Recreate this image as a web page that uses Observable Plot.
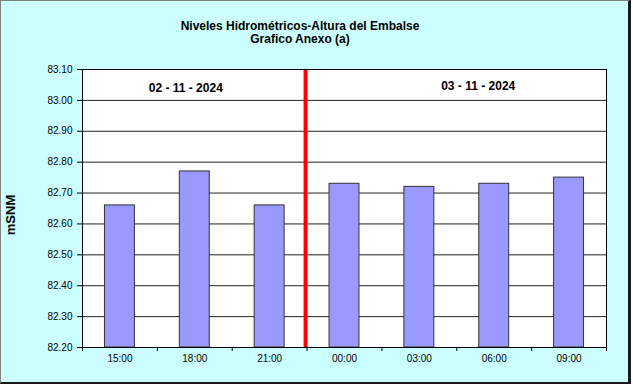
<!DOCTYPE html>
<html><head><meta charset="utf-8">
<script src="https://cdn.jsdelivr.net/npm/d3@7"></script>
<script src="https://cdn.jsdelivr.net/npm/@observablehq/plot@0.6"></script>
<style>
body{margin:0;background:#fff;font-family:Arial,"Liberation Sans",sans-serif;}
#box{position:absolute;left:0;top:0;width:631px;height:384px;box-sizing:border-box;background:#CCFFFF;border-left:1px solid #808080;border-top:1px solid #808080;border-right:3px solid #1a1a1a;border-bottom:2px solid #1a1a1a;}
#chart{position:absolute;left:0;top:0;}
.t{position:absolute;left:0;width:600px;text-align:center;font-weight:bold;font-size:12px;line-height:14px;color:#000;}
#ylab{position:absolute;left:10px;top:215px;transform:translate(-50%,-50%) rotate(-90deg);font-weight:bold;font-size:13px;white-space:nowrap;}
</style></head><body>
<div id="box"></div>
<div id="chart"></div>
<div class="t" style="top:19px">Niveles Hidrométricos-Altura del Embalse</div>
<div class="t" style="top:32px">Grafico Anexo (a)</div>
<div id="ylab">mSNM</div>
<script>
const hours = ["15:00","18:00","21:00","00:00","03:00","06:00","09:00"];
const levels = [82.66, 82.77, 82.66, 82.73, 82.72, 82.73, 82.75];
const yTicks = [82.20, 82.30, 82.40, 82.50, 82.60, 82.70, 82.80, 82.90, 83.00, 83.10];
const dateLabels = ["02 - 11 - 2024", "03 - 11 - 2024"];
const dateAnchorHours = ["18:00", "06:00"];
const dateLabelLevels = [83.038, 83.045];
const dividerHour = "00:00";

const data = hours.map((h, i) => ({hour: h, level: levels[i]}));
const yMin = yTicks[0], yMax = yTicks[yTicks.length - 1];

const W = 633, H = 386;
const mL = 82, mR = 27, mT = 69, mB = 39;
const step = (W - mL - mR) / hours.length;
const tickLen = (yMax - yMin) / (H - mT - mB) * 4;
const dateShift = [-9, -16];

const chart = Plot.plot({
  width: W, height: H,
  marginLeft: mL, marginRight: mR, marginTop: mT, marginBottom: mB,
  style: {background: "transparent", fontFamily: "Arial, 'Liberation Sans', sans-serif", fontSize: "10px", color: "#000"},
  x: {domain: hours, paddingInner: 0.6, paddingOuter: 0.3, round: false, label: null},
  y: {domain: [yMin, yMax], label: null},
  marks: [
    Plot.frame({fill: "white", stroke: "none"}),
    Plot.gridY(yTicks, {stroke: "#222", strokeOpacity: 1, strokeWidth: 1}),
    Plot.barY(data, {x: "hour", y1: yMin, y2: "level", fill: "#9999FF", stroke: "#333", strokeWidth: 1}),
    Plot.ruleX([dividerHour], {x: d => d, dx: -step / 2 - 1.5, stroke: "#FF0000", strokeWidth: 4}),
    Plot.frame({stroke: "#000", strokeWidth: 1}),
    Plot.ruleX(hours, {x: d => d, dx: -step / 2, y1: yMin, y2: yMin - tickLen, stroke: "#000"}),
    Plot.ruleX([hours[hours.length - 1]], {x: d => d, dx: step / 2, y1: yMin, y2: yMin - tickLen, stroke: "#000"}),
    Plot.axisX({tickSize: 0, tickPadding: 7, label: null, fontSize: 10}),
    Plot.axisY(yTicks, {tickSize: 5, tickPadding: 5, tickFormat: d => d.toFixed(2), label: null, fontSize: 10, stroke: "#000"}),
    ...dateLabels.map((t, i) => Plot.text([t], {x: () => dateAnchorHours[i], y: () => dateLabelLevels[i], text: d => d, dx: dateShift[i], fontWeight: "bold", fontSize: 12, fill: "#000"}))
  ]
});
document.getElementById("chart").appendChild(chart);
</script>
</body></html>
